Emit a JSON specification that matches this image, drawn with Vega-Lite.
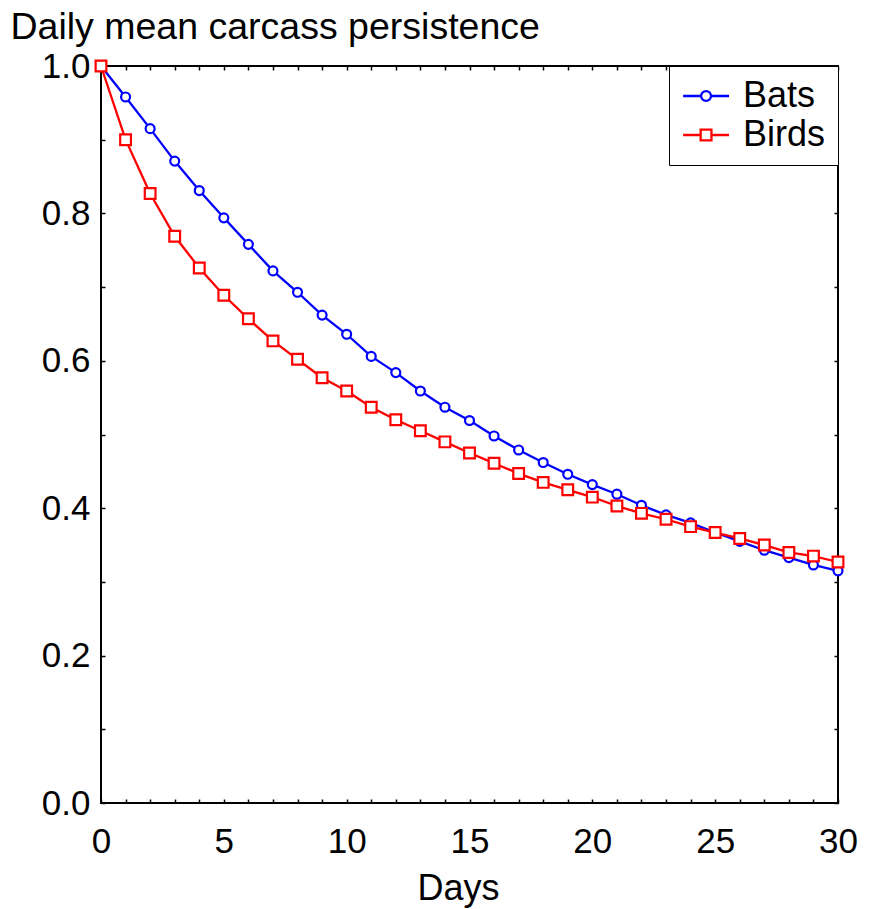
{
  "$schema": "https://vega.github.io/schema/vega-lite/v6.json",
  "width": 737,
  "height": 737,
  "autosize": {"type": "none"},
  "padding": {"left": 101, "top": 66, "right": 31, "bottom": 106},
  "background": "white",
  "config": {
    "font": "Liberation Sans",
    "view": {"stroke": "black", "strokeWidth": 2},
    "axis": {"grid": false, "domain": false, "labelFont": "Liberation Sans", "titleFont": "Liberation Sans", "labelFontSize": 35, "titleFontSize": 36, "titleFontWeight": "normal", "labelColor": "black", "titleColor": "black", "tickColor": "black", "tickWidth": 1.5, "tickSize": -4}
  },
  "data": {"values": [
    {"day":0,"series":"Bats","value":1.0},{"day":1,"series":"Bats","value":0.958},{"day":2,"series":"Bats","value":0.915},{"day":3,"series":"Bats","value":0.871},{"day":4,"series":"Bats","value":0.831},{"day":5,"series":"Bats","value":0.794},{"day":6,"series":"Bats","value":0.758},{"day":7,"series":"Bats","value":0.722},{"day":8,"series":"Bats","value":0.693},{"day":9,"series":"Bats","value":0.662},{"day":10,"series":"Bats","value":0.636},{"day":11,"series":"Bats","value":0.606},{"day":12,"series":"Bats","value":0.584},{"day":13,"series":"Bats","value":0.559},{"day":14,"series":"Bats","value":0.537},{"day":15,"series":"Bats","value":0.519},{"day":16,"series":"Bats","value":0.498},{"day":17,"series":"Bats","value":0.479},{"day":18,"series":"Bats","value":0.462},{"day":19,"series":"Bats","value":0.446},{"day":20,"series":"Bats","value":0.432},{"day":21,"series":"Bats","value":0.419},{"day":22,"series":"Bats","value":0.404},{"day":23,"series":"Bats","value":0.391},{"day":24,"series":"Bats","value":0.380},{"day":25,"series":"Bats","value":0.367},{"day":26,"series":"Bats","value":0.355},{"day":27,"series":"Bats","value":0.343},{"day":28,"series":"Bats","value":0.333},{"day":29,"series":"Bats","value":0.323},{"day":30,"series":"Bats","value":0.315},
    {"day":0,"series":"Birds","value":1.0},{"day":1,"series":"Birds","value":0.900},{"day":2,"series":"Birds","value":0.827},{"day":3,"series":"Birds","value":0.769},{"day":4,"series":"Birds","value":0.726},{"day":5,"series":"Birds","value":0.689},{"day":6,"series":"Birds","value":0.657},{"day":7,"series":"Birds","value":0.627},{"day":8,"series":"Birds","value":0.602},{"day":9,"series":"Birds","value":0.577},{"day":10,"series":"Birds","value":0.559},{"day":11,"series":"Birds","value":0.537},{"day":12,"series":"Birds","value":0.520},{"day":13,"series":"Birds","value":0.505},{"day":14,"series":"Birds","value":0.490},{"day":15,"series":"Birds","value":0.475},{"day":16,"series":"Birds","value":0.461},{"day":17,"series":"Birds","value":0.447},{"day":18,"series":"Birds","value":0.435},{"day":19,"series":"Birds","value":0.425},{"day":20,"series":"Birds","value":0.415},{"day":21,"series":"Birds","value":0.403},{"day":22,"series":"Birds","value":0.393},{"day":23,"series":"Birds","value":0.385},{"day":24,"series":"Birds","value":0.375},{"day":25,"series":"Birds","value":0.367},{"day":26,"series":"Birds","value":0.359},{"day":27,"series":"Birds","value":0.350},{"day":28,"series":"Birds","value":0.340},{"day":29,"series":"Birds","value":0.335},{"day":30,"series":"Birds","value":0.327}
  ]},
  "layer": [
    {
      "mark": {"type": "line", "strokeWidth": 2.3},
      "encoding": {
        "x": {"field": "day", "type": "quantitative", "scale": {"domain": [0, 30], "nice": false},
          "axis": {"orient": "bottom", "values": [0,1,2,3,4,5,6,7,8,9,10,11,12,13,14,15,16,17,18,19,20,21,22,23,24,25,26,27,28,29,30],
            "labelExpr": "datum.value % 5 === 0 ? datum.label : ''", "labelPadding": 25, "labelFlush": false, "labelOverlap": false,
            "title": "Days", "titleX": 357, "titleY": 96, "titleBaseline": "alphabetic", "titleAlign": "center",
            "encoding": {"ticks": {"update": {"y2": {"signal": "datum.value % 5 === 0 ? -7 : -4"}}}}}},
        "y": {"field": "value", "type": "quantitative", "scale": {"domain": [0, 1], "nice": false},
          "axis": {"orient": "left", "values": [0,0.1,0.2,0.3,0.4,0.5,0.6,0.7,0.8,0.9,1.0], "format": ".1f",
            "labelExpr": "round(datum.value*10) % 2 === 0 ? datum.label : ''", "labelPadding": 15, "labelFlush": false, "labelOverlap": false,
            "title": "Daily mean carcass persistence", "titleFontSize": 37.5, "titleAngle": 0, "titleX": -91, "titleY": -28, "titleAlign": "left", "titleBaseline": "alphabetic",
            "encoding": {"ticks": {"update": {"x2": {"signal": "round(datum.value*10) % 2 === 0 ? 7 : 4"}}}}}},
        "color": {"field": "series", "type": "nominal", "scale": {"domain": ["Bats", "Birds"], "range": ["#0000ff", "#ff0000"]}, "legend": null}
      }
    },
    {
      "mark": {"type": "point", "filled": false, "fill": "white", "fillOpacity": 1, "strokeWidth": 2.2, "opacity": 1},
      "encoding": {
        "x": {"field": "day", "type": "quantitative",
          "axis": {"orient": "top", "values": [0,1,2,3,4,5,6,7,8,9,10,11,12,13,14,15,16,17,18,19,20,21,22,23,24,25,26,27,28,29,30], "labels": false, "title": null,
            "encoding": {"ticks": {"update": {"y2": {"signal": "datum.value % 5 === 0 ? 7 : 4"}}}}}},
        "y": {"field": "value", "type": "quantitative",
          "axis": {"orient": "right", "values": [0,0.1,0.2,0.3,0.4,0.5,0.6,0.7,0.8,0.9,1.0], "labels": false, "title": null,
            "encoding": {"ticks": {"update": {"x2": {"signal": "round(datum.value*10) % 2 === 0 ? -7 : -4"}}}}}},
        "color": {"field": "series", "type": "nominal", "scale": {"domain": ["Bats", "Birds"], "range": ["#0000ff", "#ff0000"]}, "legend": null},
        "shape": {"field": "series", "type": "nominal", "scale": {"domain": ["Bats", "Birds"], "range": ["circle", "square"]}, "legend": null},
        "size": {"field": "series", "type": "ordinal", "scale": {"domain": ["Bats", "Birds"], "range": [80, 115]}, "legend": null}
      }
    },
    {
      "mark": {"type": "point", "filled": false, "opacity": 0, "size": 900, "strokeWidth": 2.3},
      "encoding": {
        "x": {"field": "day", "type": "quantitative", "axis": null},
        "y": {"field": "value", "type": "quantitative", "axis": null},
        "color": {"field": "series", "type": "nominal", "scale": {"domain": ["Bats", "Birds"], "range": ["#0000ff", "#ff0000"]},
          "legend": {"title": null, "orient": "top-right", "offset": 0, "padding": 12, "strokeColor": "black", "fillColor": "white",
            "labelFontSize": 36, "labelFont": "Liberation Sans", "labelColor": "black", "symbolSize": 900, "labelOffset": 26, "rowPadding": 3,
            "symbolStrokeWidth": 2.3, "symbolOpacity": 1}},
        "shape": {"field": "series", "type": "nominal", "scale": {"domain": ["Bats", "Birds"], "range": [
          "M-1.06,0H0.14M0.8,0H2.0M0.14,0A0.33,0.33 0 1,1 0.8,0A0.33,0.33 0 1,1 0.14,0",
          "M-1.06,0H0.11M0.83,0H2.0M0.11,-0.36H0.83V0.36H0.11Z"]},
          "legend": {"title": null, "orient": "top-right", "offset": 0, "padding": 12, "strokeColor": "black", "fillColor": "white",
            "labelFontSize": 36, "labelFont": "Liberation Sans", "labelColor": "black", "symbolSize": 900, "labelOffset": 26, "rowPadding": 3,
            "symbolStrokeWidth": 2.3, "symbolOpacity": 1}}
      }
    }
  ],
  "resolve": {"axis": {"x": "independent", "y": "independent"}, "scale": {"shape": "independent", "color": "independent"}}
}
